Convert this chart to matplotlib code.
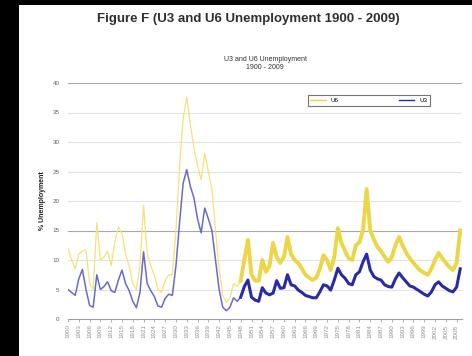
import numpy as np
import matplotlib
matplotlib.use("Agg")
import matplotlib.pyplot as plt
from matplotlib.patches import Rectangle

plt.rcParams['font.family'] = ['Liberation Sans', 'DejaVu Sans']

# annual values, 1900 - 2009
years = list(range(1900, 2010))
u3 = [5.0, 4.5, 4.0, 6.8, 8.4, 5.0, 2.3, 2.0, 7.5, 5.0,
      5.5, 6.3, 4.8, 4.5, 6.6, 8.3, 6.0, 4.8, 3.0, 1.9,
      4.5, 11.4, 6.0, 4.8, 3.8, 2.2, 2.0, 3.5, 4.2, 4.0,
      9.0, 16.3, 23.0, 25.3, 22.5, 20.5, 17.0, 14.6, 18.8, 17.0,
      15.0, 10.0, 5.0, 2.0, 1.4, 2.0, 3.6, 3.0, 3.7, 5.5,
      6.6, 3.7, 3.2, 3.0, 5.3, 4.4, 4.1, 4.4, 6.5, 5.2,
      5.3, 7.5, 5.8, 5.6, 4.9, 4.5, 4.0, 3.8, 3.6, 3.6,
      4.6, 5.8, 5.6, 4.9, 6.6, 8.6, 7.5, 6.9, 6.0, 5.8,
      7.5, 8.0, 9.7, 11.0, 8.3, 7.2, 6.8, 6.6, 5.8, 5.5,
      5.4, 6.8, 7.8, 7.0, 6.3, 5.6, 5.4, 5.0, 4.6, 4.2,
      3.9, 4.6, 5.8, 6.3, 5.6, 5.2, 4.8, 4.6, 5.4, 8.5]
u6 = [12.0, 10.0, 8.5, 11.0, 11.5, 11.7, 6.0, 5.0, 16.3, 10.0,
      10.5, 11.5, 9.0, 13.0, 15.6, 14.5, 11.0, 9.0, 6.0, 5.0,
      9.0, 19.3, 11.0, 9.0, 7.5, 5.0, 4.5, 6.5, 7.5, 7.5,
      15.0, 26.0, 34.0, 37.6, 33.0, 29.0, 26.0, 23.6, 28.1, 25.0,
      22.0, 15.0, 8.5, 4.0, 2.8, 3.5, 6.0, 5.5, 6.5, 10.0,
      13.4, 7.5, 6.5, 6.5, 10.0, 8.0, 9.0, 12.9, 10.5, 9.5,
      10.5, 13.9, 11.0, 10.0, 9.5, 8.5, 7.5, 7.0, 6.6, 7.0,
      8.5, 10.8, 10.0, 8.3, 10.5, 15.4, 12.9, 11.5, 10.3, 10.0,
      12.5, 13.0, 15.1, 22.0, 15.0, 13.5, 12.2, 11.5, 10.5, 9.7,
      10.5, 12.5, 13.9, 12.5, 11.2, 10.3, 9.5, 8.8, 8.2, 7.8,
      7.5, 8.5, 10.0, 11.2, 10.3, 9.5, 8.8, 8.3, 9.5, 15.0]
tick_years = list(range(1900, 2010, 3))

W, H = 472, 356
fig = plt.figure(figsize=(W / 100, H / 100), dpi=100)
fig.patch.set_facecolor('black')
fig.patches.append(Rectangle((19 / W, 0), (W - 19) / W, (H - 5) / H,
                             transform=fig.transFigure, facecolor='white',
                             edgecolor='none', zorder=-5))

ax = fig.add_axes([68 / W, 1 - 319 / H, (462 - 68) / W, (319 - 83) / H])
ax.set_zorder(2)
ax.set_facecolor('white')

# early annual part drawn thin, later (monthly in the source) drawn thick
k = years.index(1948)
ax.plot(years[:k + 1], u6[:k + 1], color='#f3e27a', lw=0.9, zorder=3)
ax.plot(years[:k + 1], u3[:k + 1], color='#6a6ac8', lw=1.1, zorder=4)
ax.plot(years[k:], u6[k:], color='#ecd647', lw=2.8, zorder=3, label='U6')
ax.plot(years[k:], u3[k:], color='#2a2aa6', lw=2.2, zorder=4, label='U3')

ax.set_xlim(1900, 2009.5)
ax.set_ylim(0, 40)
ax.set_yticks(range(0, 41, 5))
for v in range(5, 41, 5):
    c = '#a8a8a8' if v in (15, 40) else '#e2e2e2'
    ax.axhline(v, color=c, lw=0.8, zorder=1)

ax.set_xticks(tick_years)
ax.set_xticklabels([str(y) for y in tick_years], rotation=90, fontsize=4.5,
                   color='#606060')
ax.tick_params(axis='x', length=2, width=0.5, colors='#909090', pad=2)
ax.tick_params(axis='y', length=0, labelsize=4.5, labelcolor='#606060', pad=6)
for s in ['top', 'right', 'left']:
    ax.spines[s].set_visible(False)
ax.spines['bottom'].set_color('#a0a0a0')
ax.spines['bottom'].set_linewidth(0.8)

ax.set_ylabel('% Unemployment', fontsize=5, color='#202020', labelpad=5,
              fontweight='bold')
ax.set_title('U3 and U6 Unemployment\n1900 - 2009', fontsize=5,
             color='#303030', pad=10, linespacing=1.3)

leg = ax.legend(loc='lower left', bbox_to_anchor=(0.60, 0.89, 0.326, 0.072),
                mode='expand', ncol=2, fontsize=4.5, frameon=True,
                fancybox=False, handlelength=2.5, borderpad=0.4)
leg.get_frame().set_edgecolor('#505050')
leg.get_frame().set_linewidth(0.8)
for line in leg.get_lines():
    line.set_linewidth(1.0)

fig.text(248 / W, 1 - 19 / H, 'Figure F (U3 and U6 Unemployment 1900 - 2009)',
         ha='center', va='center', fontsize=9.5, fontweight='bold',
         color='#303030')

fig.savefig('out.png', dpi=100, facecolor=fig.get_facecolor())
